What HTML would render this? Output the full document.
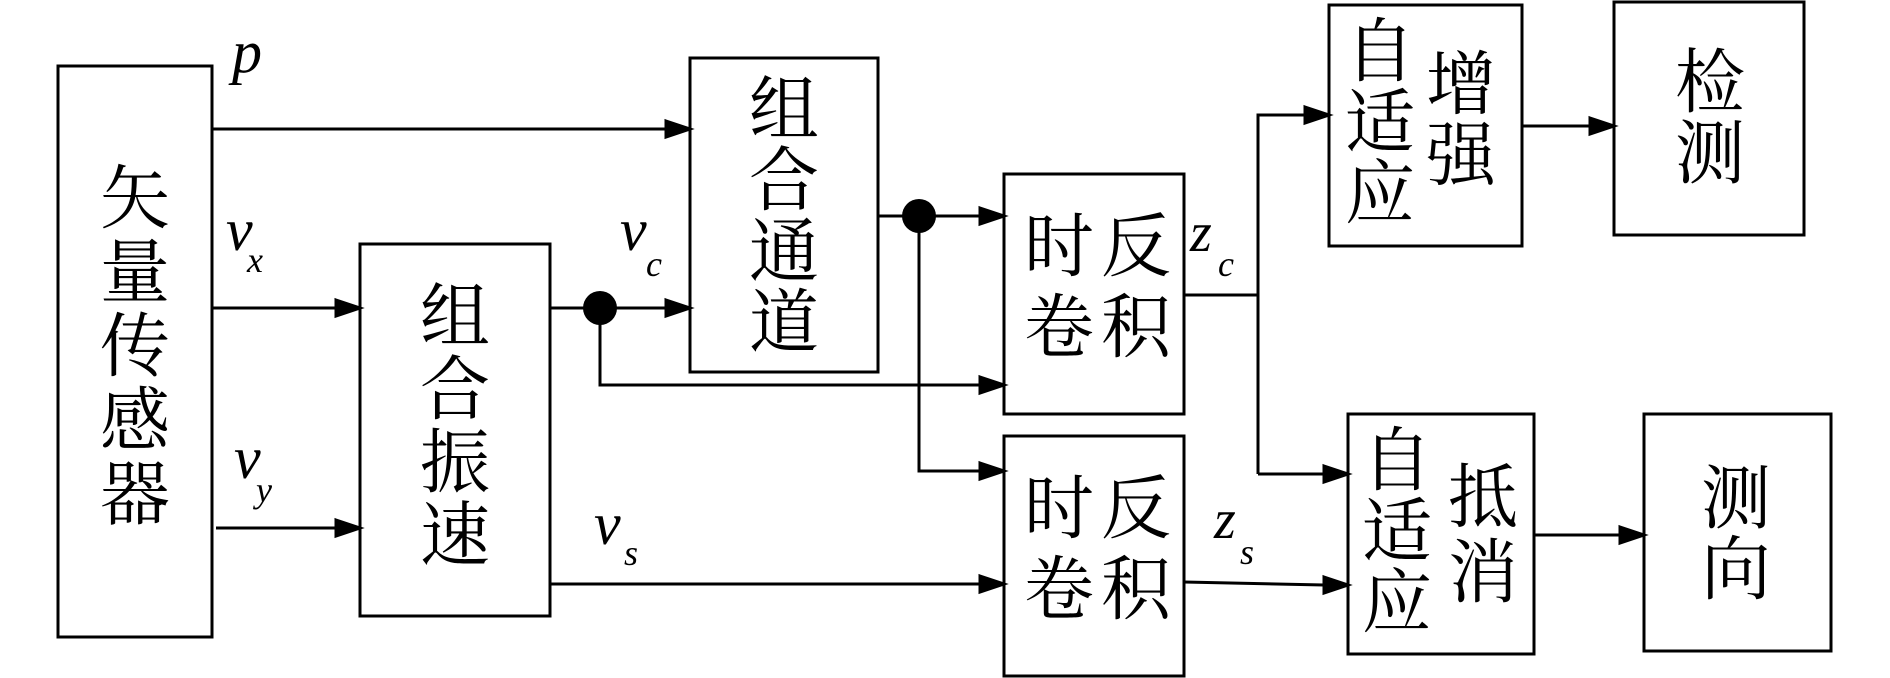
<!DOCTYPE html>
<html><head><meta charset="utf-8"><style>
html,body{margin:0;padding:0;background:#fff;}
svg{display:block;}
.c{font-family:"Liberation Serif","Noto Serif CJK SC",serif;font-size:70px;fill:#000;text-anchor:middle;dominant-baseline:central;}
.l{font-family:"Liberation Serif",serif;font-style:italic;fill:#000;}
</style></head><body>
<svg width="1890" height="678" viewBox="0 0 1890 678" xmlns="http://www.w3.org/2000/svg">
<defs><marker id="a" markerWidth="12" markerHeight="10" refX="12" refY="5" orient="auto" markerUnits="userSpaceOnUse"><path d="M0,0 L12,5 L0,10 z" fill="#000"/></marker></defs>
<g fill="none" stroke="#000" stroke-width="3">
<rect x="58" y="66" width="154" height="571"/>
<rect x="360" y="244" width="190" height="372"/>
<rect x="690" y="58" width="188" height="314"/>
<rect x="1004" y="174" width="180" height="240"/>
<rect x="1004" y="436" width="180" height="240"/>
<rect x="1329" y="5" width="193" height="241"/>
<rect x="1614" y="2" width="190" height="233"/>
<rect x="1348" y="414" width="186" height="240"/>
<rect x="1644" y="414" width="187" height="237"/>
</g>
<g stroke="#000" stroke-width="3" fill="none">
<path d="M212,129 H666"/><path d="M666,121 L690,129 L666,137 z" fill="#000"/>
<path d="M212,308 H336"/><path d="M336,300 L360,308 L336,316 z" fill="#000"/>
<path d="M216,528 H336"/><path d="M336,520 L360,528 L336,536 z" fill="#000"/>
<path d="M550,308 H666"/><path d="M666,300 L690,308 L666,316 z" fill="#000"/>
<path d="M600,308 V385 H980"/><path d="M980,377 L1004,385 L980,393 z" fill="#000"/>
<path d="M878,216 H980"/><path d="M980,208 L1004,216 L980,224 z" fill="#000"/>
<path d="M919,216 V471 H980"/><path d="M980,463 L1004,471 L980,479 z" fill="#000"/>
<path d="M550,584 H980"/><path d="M980,576 L1004,584 L980,592 z" fill="#000"/>
<path d="M1184,295 H1258"/>
<path d="M1258,474 V115 H1305"/><path d="M1305,107 L1329,115 L1305,123 z" fill="#000"/>
<path d="M1258,474 H1324"/><path d="M1324,466 L1348,474 L1324,482 z" fill="#000"/>
<path d="M1184,582 L1324,585"/><path d="M1324,577 L1348,585 L1324,593 z" fill="#000"/>
<path d="M1522,126 H1590"/><path d="M1590,118 L1614,126 L1590,134 z" fill="#000"/>
<path d="M1534,535 H1620"/><path d="M1620,527 L1644,535 L1620,543 z" fill="#000"/>
</g>
<ellipse cx="600" cy="308" rx="17" ry="17" fill="#000"/>
<ellipse cx="919" cy="216" rx="17" ry="17" fill="#000"/>
<g class="c">
<text x="135" y="200">矢</text><text x="135" y="274">量</text><text x="135" y="348">传</text><text x="135" y="422">感</text><text x="135" y="496">器</text>
<text x="784" y="111">组</text><text x="784" y="182">合</text><text x="784" y="253">通</text><text x="784" y="324">道</text>
<text x="455" y="318">组</text><text x="455" y="391">合</text><text x="455" y="464">振</text><text x="455" y="537">速</text>
<text x="1059" y="248">时</text><text x="1136" y="248">反</text><text x="1059" y="329">卷</text><text x="1136" y="329">积</text>
<text x="1059" y="510">时</text><text x="1136" y="510">反</text><text x="1059" y="591">卷</text><text x="1136" y="591">积</text>
<text x="1380" y="53">自</text><text x="1380" y="124">适</text><text x="1380" y="195">应</text>
<text x="1461" y="86">增</text><text x="1461" y="157">强</text>
<text x="1710" y="84">检</text><text x="1710" y="155">测</text>
<text x="1397" y="462">自</text><text x="1397" y="533">适</text><text x="1397" y="604">应</text>
<text x="1483" y="499">抵</text><text x="1483" y="574">消</text>
<text x="1736" y="500">测</text><text x="1736" y="571">向</text>
</g>
<g class="l">
<text x="232" y="72" font-size="60">p</text>
<text x="226" y="250" font-size="60">v</text><text x="247" y="272" font-size="36">x</text>
<text x="620" y="250" font-size="60">v</text><text x="646" y="276" font-size="36">c</text>
<text x="234" y="478" font-size="60">v</text><text x="256" y="502" font-size="36">y</text>
<text x="594" y="544" font-size="60">v</text><text x="624" y="565" font-size="36">s</text>
<text x="1190" y="251" font-size="56">z</text><text x="1218" y="276" font-size="36">c</text>
<text x="1214" y="538" font-size="56">z</text><text x="1240" y="564" font-size="36">s</text>
</g>
</svg>
</body></html>
